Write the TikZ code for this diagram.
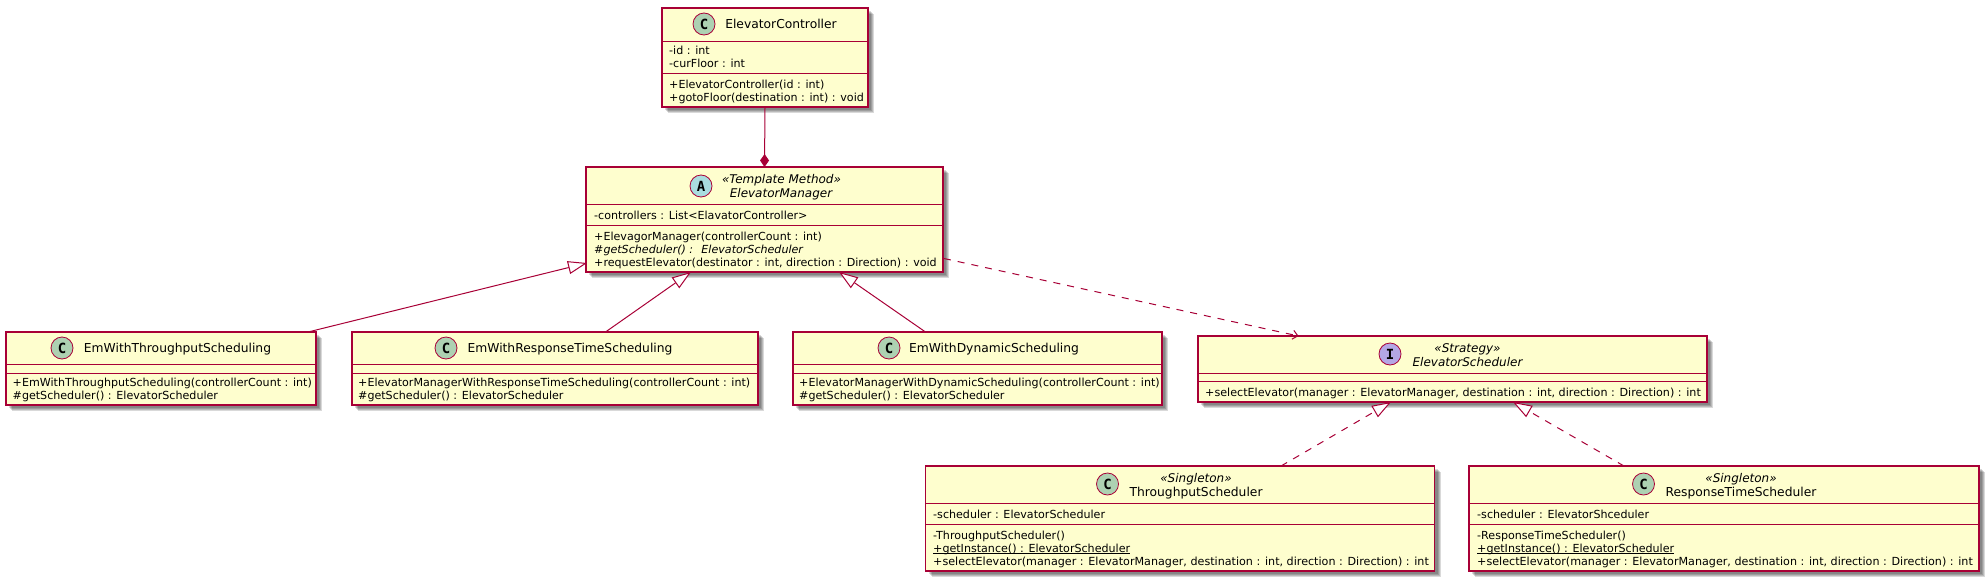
\documentclass[tikz,border=0pt]{standalone}
\usepackage{fontspec}
\setmainfont{DejaVu Sans}
\setmonofont{DejaVu Sans Mono}
\usetikzlibrary{arrows.meta,shadows}
\definecolor{umlred}{RGB}{168,0,54}
\definecolor{umlyellow}{RGB}{254,254,206}
\definecolor{spotclass}{RGB}{173,209,178}
\definecolor{spotabstract}{RGB}{169,220,223}
\definecolor{spotinterface}{RGB}{180,167,229}
\newcommand{\staticname}[1]{\underline{\smash{#1}}}
\tikzset{
  every picture/.style={line join=miter},
  softshadow/.style={drop shadow={shadow xshift=#1pt,shadow yshift=-#1pt,
    fill=black,opacity=.15}},
  umlbox/.style={rectangle,draw=umlred,fill=umlyellow,line width=1.1pt,
    inner sep=0pt,outer sep=0pt,softshadow=6,softshadow=5,softshadow=4,softshadow=3},
  divider/.style={draw=umlred,line width=1pt},
  spot/.style={circle,draw=umlred,line width=.8pt,minimum size=22pt,inner sep=0pt,
    font=\fontsize{14}{14}\selectfont\ttfamily\bfseries},
  classspot/.style={spot,fill=spotclass},
  abstractspot/.style={spot,fill=spotabstract},
  interfacespot/.style={spot,fill=spotinterface},
  member/.style={anchor=west,inner sep=0pt,text height=10pt,text depth=2pt,
    font=\fontsize{11.1}{12}\selectfont},
  longmember/.style={member,font=\fontsize{11.15}{12}\selectfont},
  title/.style={inner sep=0pt,text height=11pt,text depth=3pt,
    font=\fontsize{12.3}{13}\selectfont},
  stereo/.style={inner sep=0pt,text height=11pt,text depth=3pt,
    font=\fontsize{12}{13}\selectfont\itshape},
  assoc/.style={draw=umlred,line width=1pt},
  compose/.style={assoc,-{Diamond[fill=umlred,width=9pt,length=13pt]}},
  inherit/.style={assoc,-{Triangle[open,fill=white,width=13pt,length=19pt]}},
  realize/.style={inherit,dash pattern=on 7pt off 7pt},
  depend/.style={assoc,dash pattern=on 7pt off 7pt,-{Straight Barb[length=5pt,width=9pt]}}
}
\begin{document}
\begin{tikzpicture}[x=1pt,y=-1pt]
  \useasboundingbox (0,0) rectangle (1988,581);

  % The class boxes, at their place in the layout.
  \node[umlbox,minimum width=206pt,minimum height=99pt] (ctrl) at (765,57.5) {};
  \node[umlbox,minimum width=357pt,minimum height=105pt] (mgr) at (764.5,219.5) {};
  \node[umlbox,minimum width=310pt,minimum height=73pt] (emthrough) at (161,368.5) {};
  \node[umlbox,minimum width=406pt,minimum height=73pt] (emresp) at (555,368.5) {};
  \node[umlbox,minimum width=369pt,minimum height=73pt] (emdyn) at (977.5,368.5) {};
  \node[umlbox,minimum width=509pt,minimum height=66pt] (sched) at (1452.5,369) {};
  \node[umlbox,minimum width=509pt,minimum height=105pt] (tsched) at (1180,518.5) {};
  \node[umlbox,minimum width=510pt,minimum height=105pt] (rsched) at (1724,518.5) {};

  % Compartment lines.
  \foreach \name/\ya/\yb in {ctrl/41/73,mgr/204/225,emthrough/364/373,emresp/364/373,
      emdyn/364/373,sched/373/381,tsched/503/524,rsched/503/524}{
    \draw[divider] (\name.west |- 0,\ya)--(\name.east |- 0,\ya);
    \draw[divider] (\name.west |- 0,\yb)--(\name.east |- 0,\yb);
  }

  % ElevatorController
  \node[classspot] (ctrlspot) at (704,24) {C};
  \node[title] (ctrlname) at (781,24) {ElevatorController};
  \node[member] (ctrla) at (669,50) {-id : int};
  \node[member] (ctrlb) at (669,63) {-curFloor : int};
  \node[member] (ctrlc) at (669,84) {+ElevatorController(id : int)};
  \node[member] (ctrld) at (669,97) {+gotoFloor(destination : int) : void};

  % ElevatorManager
  \node[abstractspot] (mgrspot) at (701,186) {A};
  \node[stereo] (mgrstereo) at (781.5,179) {«Template Method»};
  \node[stereo] (mgrname) at (781,193) {ElevatorManager};
  \node[member] (mgra) at (594,215) {-controllers : List<ElavatorController>};
  \node[member] (mgrb) at (594,236) {+ElevagorManager(controllerCount : int)};
  \node[member,font=\fontsize{11.1}{12}\selectfont\itshape] (mgrc) at (594,249)
    {\#getScheduler() :~ ElevatorScheduler};
  \node[member] (mgrd) at (594,262) {+requestElevator(destinator : int, direction : Direction) : void};

  % The three managers
  \node[classspot] (emthroughspot) at (62,348) {C};
  \node[title] (emthroughname) at (177.5,348) {EmWithThroughputScheduling};
  \node[member] (emthrougha) at (12.5,382) {+EmWithThroughputScheduling(controllerCount : int)};
  \node[member] (emthroughb) at (12.5,395) {\#getScheduler() : ElevatorScheduler};

  \node[classspot] (emrespspot) at (446,348) {C};
  \node[title] (emrespname) at (570,348) {EmWithResponseTimeScheduling};
  \node[member] (emrespa) at (358,382) {+ElevatorManagerWithResponseTimeScheduling(controllerCount : int)};
  \node[member] (emrespb) at (358,395) {\#getScheduler() : ElevatorScheduler};

  \node[classspot] (emdynspot) at (889,348) {C};
  \node[title] (emdynname) at (994,348) {EmWithDynamicScheduling};
  \node[member] (emdyna) at (799,382) {+ElevatorManagerWithDynamicScheduling(controllerCount : int)};
  \node[member] (emdynb) at (799,395) {\#getScheduler() : ElevatorScheduler};

  % ElevatorScheduler
  \node[interfacespot] (schedspot) at (1390,354) {I};
  \node[stereo] (schedstereo) at (1467.5,348) {«Strategy»};
  \node[stereo] (schedname) at (1467.5,362) {ElevatorScheduler};
  \node[longmember] (scheda) at (1205,392)
    {+selectElevator(manager : ElevatorManager, destination : int, direction : Direction) : int};

  % The two singletons
  \node[classspot] (tschedspot) at (1107.5,484) {C};
  \node[stereo] (tschedstereo) at (1196,478) {«Singleton»};
  \node[title] (tschedname) at (1196,492) {ThroughputScheduler};
  \node[member] (tscheda) at (933,514) {-scheduler : ElevatorScheduler};
  \node[member] (tschedb) at (933,535) {-ThroughputScheduler()};
  \node[member] (tschedc) at (933,548) {\staticname{+getInstance() : ElevatorScheduler}};
  \node[longmember] (tschedd) at (933,561)
    {+selectElevator(manager : ElevatorManager, destination : int, direction : Direction) : int};

  \node[classspot] (rschedspot) at (1643.5,484) {C};
  \node[stereo] (rschedstereo) at (1741,478) {«Singleton»};
  \node[title] (rschedname) at (1741,492) {ResponseTimeScheduler};
  \node[member] (rscheda) at (1477,514) {-scheduler : ElevatorShceduler};
  \node[member] (rschedb) at (1477,535) {-ResponseTimeScheduler()};
  \node[member] (rschedc) at (1477,548) {\staticname{+getInstance() : ElevatorScheduler}};
  \node[longmember] (rschedd) at (1477,561)
    {+selectElevator(manager : ElevatorManager, destination : int, direction : Direction) : int};

  % Connector ends on the box borders.
  \coordinate (mgrleft) at (587,263);
  \coordinate (mgrbota) at (691,272);
  \coordinate (mgrbotb) at (839,272);
  \coordinate (mgrright) at (944,258.5);
  \coordinate (emthroughtop) at (308,332);
  \coordinate (emresptop) at (605.5,332);
  \coordinate (emdyntop) at (925.5,332);
  \coordinate (schedtop) at (1298.5,336);
  \coordinate (schedbota) at (1391,402);
  \coordinate (schedbotb) at (1513,402);
  \coordinate (tschedtop) at (1281,466);
  \coordinate (rschedtop) at (1624,466);

  \draw[compose] (ctrl.south)--(mgr.north);
  \draw[inherit] (emthroughtop)--(mgrleft);
  \draw[inherit] (emresptop)--(mgrbota);
  \draw[inherit] (emdyntop)--(mgrbotb);
  \draw[depend] (mgrright)--(schedtop);
  \draw[realize] (tschedtop)--(schedbota);
  \draw[realize] (rschedtop)--(schedbotb);
\end{tikzpicture}
\end{document}
